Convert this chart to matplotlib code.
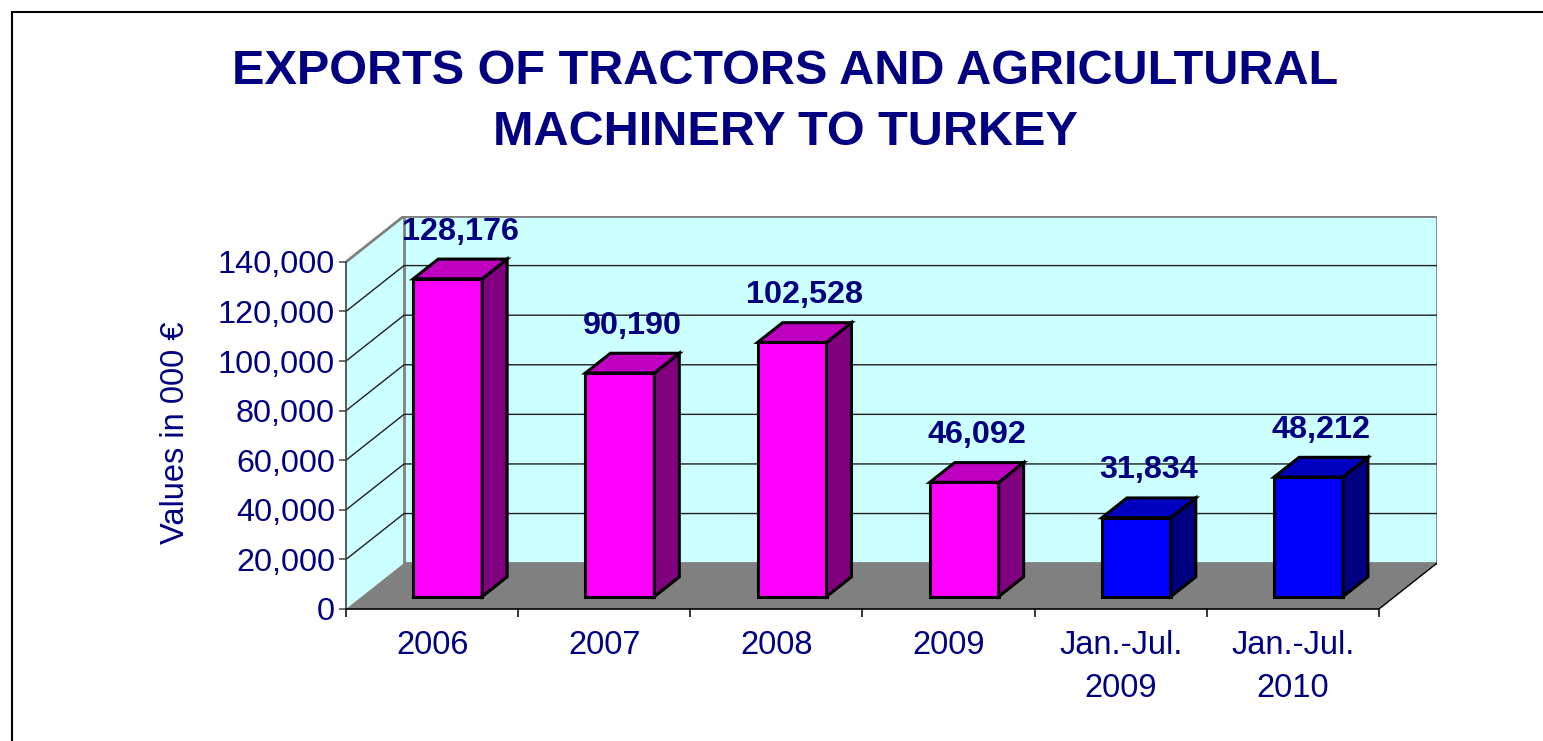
import matplotlib
matplotlib.use("Agg")
import matplotlib.pyplot as plt
from matplotlib.patches import Polygon, Rectangle
import numpy as np

plt.rcParams['font.family'] = ['Liberation Sans', 'DejaVu Sans']

# datos
categorias = ["2006", "2007", "2008", "2009", "Jan.-Jul.\n2009", "Jan.-Jul.\n2010"]
valores = [128176, 90190, 102528, 46092, 31834, 48212]
colores = ["magenta", "magenta", "magenta", "magenta", "blue", "blue"]
yticks = [0, 20000, 40000, 60000, 80000, 100000, 120000, 140000]

navy = "#000080"
# caras: frente, arriba, lado
paleta = {
    "magenta": ("#FF00FF", "#C000C0", "#800080"),
    "blue": ("#0000FF", "#0000C0", "#000080"),
}

# profundidad oblicua (unidades de datos)
DX = 0.337
DY = 18500
YMAX = 140000
N = len(categorias)
z0, z1 = 0.27, 0.70
w = 0.2


def P(x, y, z):
    return (x + z * DX, y + z * DY)


W, H = 1543, 741
fig = plt.figure(figsize=(W / 100, H / 100), dpi=100)
ax = fig.add_axes([346 / W, (H - 609) / H, 1091 / W, 393 / H])
ax.set_xlim(0, N + DX)
ax.set_ylim(0, YMAX + DY)
ax.patch.set_visible(False)

# paredes
side = [P(0, 0, 0), P(0, YMAX, 0), P(0, YMAX, 1), P(0, 0, 1)]
back = [P(0, 0, 1), P(N, 0, 1), P(N, YMAX, 1), P(0, YMAX, 1)]
floor = [P(0, 0, 0), P(N, 0, 0), P(N, 0, 1), P(0, 0, 1)]
ax.add_patch(Polygon(side, closed=True, facecolor="#CCFFFF", edgecolor="none", zorder=1))
ax.add_patch(Polygon(back, closed=True, facecolor="#CCFFFF", edgecolor="#808080", lw=2, zorder=1))

# cuadricula
for v in yticks[1:-1]:
    xa, ya = P(0, v, 0)
    xb, yb = P(0, v, 1)
    xc, yc = P(N, v, 1)
    ax.plot([xa, xb, xc], [ya, yb, yc], color="#202020", lw=1, zorder=2)
xa, ya = P(0, YMAX, 0)
xb, yb = P(0, YMAX, 1)
ax.plot([xa, xb], [ya, yb], color="#808080", lw=2, zorder=2)

ax.add_patch(Polygon(floor, closed=True, facecolor="#808080", edgecolor="none", zorder=2))
xa, ya = P(N, 0, 0)
xb, yb = P(N, 0, 1)
ax.plot([xa, xb], [ya, yb], color="black", lw=1, zorder=2)

# barras
for i, (v, c) in enumerate(zip(valores, colores)):
    cx = i + 0.5
    frente, arriba, lado = paleta[c]
    f = [P(cx - w, 0, z0), P(cx + w, 0, z0), P(cx + w, v, z0), P(cx - w, v, z0)]
    s = [P(cx + w, 0, z0), P(cx + w, 0, z1), P(cx + w, v, z1), P(cx + w, v, z0)]
    t = [P(cx - w, v, z0), P(cx + w, v, z0), P(cx + w, v, z1), P(cx - w, v, z1)]
    for poly, col in ((f, frente), (s, lado), (t, arriba)):
        ax.add_patch(Polygon(poly, closed=True, facecolor=col, edgecolor="black",
                             lw=2.2, joinstyle="miter", zorder=4))
    lx, _ = P(cx, v, (z0 + z1) / 2)
    _, ly = P(cx, v, z1)
    ax.annotate(f"{v:,}", (lx, ly), xytext=(0, 9), textcoords="offset points",
                ha="center", va="bottom", fontsize=23.3, fontweight="bold",
                color=navy, zorder=5)

# ejes frontales
for sp in ("top", "right"):
    ax.spines[sp].set_visible(False)
ax.spines["left"].set_bounds(0, YMAX)
ax.spines["left"].set_color("#404040")
ax.spines["left"].set_linewidth(1.2)
ax.spines["bottom"].set_bounds(0, N)
ax.spines["bottom"].set_linewidth(1.2)
ax.spines["left"].set_zorder(3)
ax.spines["bottom"].set_zorder(3)

ax.set_yticks(yticks, [f"{v:,}" for v in yticks])
ax.tick_params(axis="y", length=5, width=1.1, pad=3, labelsize=23.3,
               labelcolor=navy, color="#404040")
ax.set_xticks(np.arange(N + 1), [""] * (N + 1))
ax.tick_params(axis="x", which="major", length=6, width=1.1, direction="out")
ax.set_xticks(np.arange(N) + 0.5, categorias, minor=True)
ax.tick_params(axis="x", which="minor", length=0, pad=15, labelsize=23.5,
               labelcolor=navy)
for lab in ax.get_xticklabels(minor=True):
    lab.set_linespacing(1.5)

fig.text(175 / W, 1 - 433 / H, "Values in 000 \u20ac", rotation=90, ha="center",
         va="center", fontsize=23.5, color=navy)

fig.text(785 / W, 1 - 102 / H, "EXPORTS OF TRACTORS AND AGRICULTURAL\nMACHINERY TO TURKEY",
         ha="center", va="center", fontsize=35, fontweight="bold", color=navy,
         linespacing=1.44)

# marco
fig.add_artist(Rectangle((12 / W, -0.05), 1.2, 1 - 12 / H + 0.05,
                         transform=fig.transFigure, fill=False,
                         edgecolor="black", lw=1.5))

fig.savefig("out.png", dpi=100)
